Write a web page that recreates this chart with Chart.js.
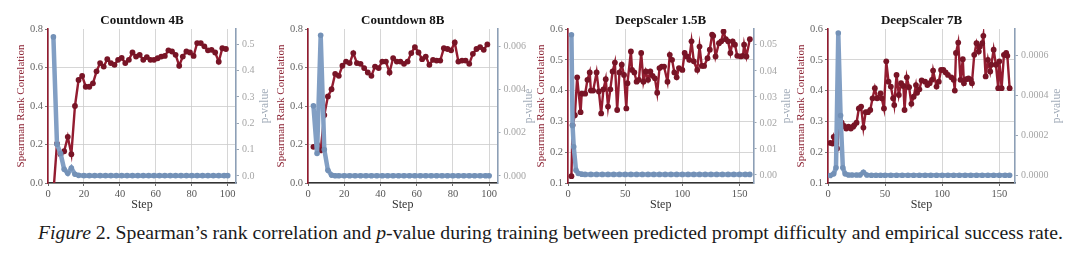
<!DOCTYPE html>
<html>
<head>
<meta charset="utf-8">
<script src="https://cdn.jsdelivr.net/npm/chart.js@4"></script>
<style>
  body { margin: 0; background: #fff; width: 1080px; height: 257px; overflow: hidden; position: relative; font-family: "Liberation Serif", serif; }
  canvas { position: absolute; top: 0; }
  #cap { position: absolute; top: 222px; left: 38px; font-size: 18px; line-height: 22px; color: #1a1a1a; white-space: nowrap; transform-origin: 0 0; }
</style>
</head>
<body>
<div id="cap"><i>Figure</i> 2. Spearman’s rank correlation and <i>p</i>-value during training between predicted prompt difficulty and empirical success rate.</div>
<script>
// steps shared by both Countdown runs
const cdSteps = [3,5,7,9,11,13,15,17,19,21,23,25,27,29,31,33,35,37,39,41,43,45,47,49,51,53,55,57,59,61,63,65,67,69,71,73,75,77,79,81,83,85,87,89,91,93,95,97,99];
const cdPSteps = [3,5,7,9,11,13,15,17,20,23,26,29,32,35,38,41,44,47,50,53,56,59,62,65,68,71,74,77,80,83,86,89,92,95,98,100];

// Countdown 4B
const cd4Corr = [-0.05,0.205,0.15,0.165,0.24,0.15,0.40,0.535,0.556,0.50,0.50,0.518,0.58,0.623,0.605,0.643,0.623,0.614,0.64,0.65,0.623,0.64,0.678,0.657,0.666,0.64,0.654,0.64,0.64,0.648,0.657,0.66,0.689,0.683,0.666,0.609,0.657,0.683,0.678,0.66,0.727,0.727,0.71,0.689,0.692,0.678,0.63,0.70,0.696];
const cd4P = [0.528,0.12,0.085,0.025,0.01,0.03,0.006,0.002,0.001,0.001,0.001,0.001,0.001,0.001,0.001,0.001,0.001,0.001,0.001,0.001,0.001,0.001,0.001,0.001,0.001,0.001,0.001,0.001,0.001,0.001,0.001,0.001,0.001,0.001,0.001,0.001];

// Countdown 8B
const cd8Corr = [0.188,0.20,0.17,0.353,0.45,0.487,0.567,0.557,0.609,0.631,0.623,0.675,0.623,0.619,0.597,0.574,0.557,0.605,0.597,0.631,0.631,0.574,0.649,0.631,0.631,0.619,0.631,0.675,0.706,0.678,0.643,0.657,0.614,0.64,0.636,0.636,0.70,0.696,0.689,0.73,0.631,0.636,0.636,0.619,0.671,0.696,0.706,0.692,0.72];
const cd8P = [0.00324,0.00104,0.0065,0.00122,0.00026,0.00004,0.00001,0.00001,0.00001,0.00001,0.00001,0.00001,0.00001,0.00001,0.00001,0.00001,0.00001,0.00001,0.00001,0.00001,0.00001,0.00001,0.00001,0.00001,0.00001,0.00001,0.00001,0.00001,0.00001,0.00001,0.00001,0.00001,0.00001,0.00001,0.00001,0.00001];

// DeepScaler 1.5B
const ds15Steps = [3,4,6,8,11,12,15,17,19,20,22,25,27,29,31,33,35,37,39,41,43,45,47,49,51,52,55,56,58,60,62,64,66,68,70,72,74,76,78,80,82,84,87,89,91,93,95,97,100,102,104,106,108,110,113,115,117,119,122,124,126,127,129,132,134,136,138,140,142,144,146,148,151,153,154,156,159];
const ds15Corr = [0.122,0.288,0.32,0.443,0.33,0.39,0.39,0.435,0.459,0.40,0.40,0.459,0.397,0.326,0.404,0.437,0.348,0.404,0.462,0.491,0.337,0.459,0.484,0.451,0.342,0.424,0.527,0.467,0.459,0.429,0.435,0.522,0.429,0.462,0.435,0.462,0.448,0.440,0.393,0.473,0.478,0.478,0.429,0.516,0.50,0.459,0.443,0.473,0.467,0.522,0.511,0.50,0.56,0.495,0.467,0.543,0.48,0.48,0.505,0.533,0.582,0.578,0.511,0.554,0.56,0.592,0.567,0.56,0.522,0.56,0.549,0.513,0.511,0.513,0.549,0.511,0.567];
const ds15PSteps = [3,4,5,7,9,12,15,20,25,30,35,40,45,50,55,60,65,70,75,80,85,90,95,100,105,110,115,120,125,130,135,140,145,150,155,159];
const ds15P = [0.0539,0.019,0.0108,0.0018,0.0006,0.0003,0.0002,0.0002,0.0002,0.0002,0.0002,0.0002,0.0002,0.0002,0.0002,0.0002,0.0002,0.0002,0.0002,0.0002,0.0002,0.0002,0.0002,0.0002,0.0002,0.0002,0.0002,0.0002,0.0002,0.0002,0.0002,0.0002,0.0002,0.0002,0.0002,0.0002];

// DeepScaler 7B
const ds7Steps = [2,4,5,7,8,10,12,14,16,18,20,22,23,25,27,29,31,33,35,37,39,41,43,46,47,49,51,53,55,57,58,60,62,64,66,67,69,71,73,75,77,78,80,82,85,87,89,91,92,95,97,99,101,103,105,108,110,111,112,114,116,118,119,121,123,125,126,128,130,132,133,135,136,138,140,142,143,145,147,149,150,152,154,156,157,159];
const ds7Corr = [0.23,0.228,0.25,0.228,0.212,0.31,0.296,0.285,0.277,0.283,0.277,0.283,0.288,0.296,0.342,0.348,0.28,0.33,0.33,0.337,0.375,0.408,0.375,0.391,0.375,0.342,0.495,0.429,0.413,0.375,0.353,0.451,0.386,0.424,0.415,0.337,0.443,0.411,0.357,0.38,0.418,0.393,0.404,0.433,0.429,0.418,0.424,0.435,0.465,0.413,0.429,0.467,0.467,0.459,0.451,0.443,0.435,0.40,0.522,0.556,0.435,0.502,0.424,0.437,0.44,0.435,0.424,0.516,0.554,0.527,0.543,0.554,0.578,0.446,0.5,0.462,0.484,0.533,0.484,0.408,0.495,0.408,0.516,0.522,0.513,0.408];
const ds7PSteps = [2,5,7,9,11,13,15,18,21,25,28,31,34,38,42,46,50,55,60,65,70,75,80,85,90,95,100,105,110,115,120,125,130,135,140,145,150,155,159];
const ds7P = [0.000002,0.00001,0.00004,0.00071,0.0003,0.00004,0.00001,0.000004,0.000004,0.000004,0.000004,0.000018,0.000004,0.000003,0.000003,0.000003,0.000003,0.000003,0.000003,0.000003,0.000003,0.000003,0.000003,0.000003,0.000003,0.000003,0.000003,0.000003,0.000003,0.000003,0.000003,0.000003,0.000003,0.000003,0.000003,0.000003,0.000003,0.000003,0.000003];

const RED = '#931c30', RED_PT = '#781426';
const BLUE = '#829fc4', BLUE_PT = '#7391b7';
const SERIF = '"Liberation Serif", "Times New Roman", serif';
const GRID = '#cbcbcb';
const LEFT_W = 33;

function pairs(xs, ys) {
  return xs.map((x, i) => ({ x: x, y: ys[i] }));
}

// panel title on top and the right "p-value" label (reads bottom-to-top)
const deco = {
  id: 'deco',
  afterDraw(chart, args, opts) {
    const ctx = chart.ctx, a = chart.chartArea;
    ctx.save();
    ctx.font = 'bold 13px ' + SERIF;
    ctx.fillStyle = '#151515';
    ctx.textAlign = 'center';
    ctx.textBaseline = 'middle';
    ctx.fillText(opts.title, (a.left + a.right) / 2, a.top - 8);
    ctx.translate(a.right + opts.pOff, (a.top + a.bottom) / 2);
    ctx.rotate(-Math.PI / 2);
    ctx.font = '11.5px ' + SERIF;
    ctx.fillStyle = '#a3adba';
    ctx.fillText('p-value', 0, 0);
    ctx.restore();
  }
};

function panel(o) {
  const c = document.createElement('canvas');
  const rw = o.pOff + 8;
  c.width = Math.round(o.right - o.left + LEFT_W + rw);
  c.height = 215;
  c.style.left = (o.left - LEFT_W) + 'px';
  document.body.appendChild(c);

  new Chart(c, {
    type: 'line',
    data: {
      datasets: [
        { data: pairs(o.pSteps, o.p), yAxisID: 'y1', borderColor: BLUE, borderWidth: 4.5,
          pointRadius: 2.8, pointBackgroundColor: BLUE_PT, pointBorderColor: BLUE_PT, pointBorderWidth: 0, tension: 0 },
        { data: pairs(o.steps, o.corr), yAxisID: 'y', borderColor: RED, borderWidth: 2.4,
          pointRadius: 2.9, pointBackgroundColor: RED_PT, pointBorderColor: RED_PT, pointBorderWidth: 0, tension: 0 }
      ]
    },
    options: {
      responsive: false,
      animation: false,
      devicePixelRatio: 1,
      layout: { padding: { top: 29, left: 0, right: 0, bottom: 0 } },
      plugins: { legend: { display: false }, tooltip: { enabled: false }, deco: { title: o.title, pOff: o.pOff } },
      scales: {
        x: {
          type: 'linear', min: 0, max: o.xMax,
          ticks: { stepSize: o.xStep, includeBounds: false, color: '#555', font: { family: SERIF, size: 10.5 }, padding: 2 },
          grid: { color: GRID, lineWidth: 0.8, tickLength: 3, tickColor: '#444' },
          border: { color: '#333', width: 1.6 },
          title: { display: true, text: 'Step', color: '#333', font: { family: SERIF, size: 12 }, padding: { top: 0, bottom: 3 } },
          afterFit: s => { s.height = 32; }
        },
        y: {
          position: 'left', min: o.yMin, max: o.yMax,
          ticks: { stepSize: o.yStep, includeBounds: false, color: '#666', font: { family: SERIF, size: 10.5 }, padding: 2,
                   callback: v => v.toFixed(1) },
          grid: { color: ctx => (ctx.tick && ctx.tick.value > o.yMax - 1e-9) ? 'rgba(0,0,0,0)' : GRID,
                  lineWidth: 0.8, tickLength: 3, tickColor: '#555' },
          border: { color: RED, width: 1.6 },
          title: { display: true, text: 'Spearman Rank Correlation', color: '#8c2233', font: { family: SERIF, size: 11 }, padding: 0 },
          afterFit: s => { s.width = LEFT_W; }
        },
        y1: {
          position: 'right', min: o.pMin, max: o.pMax,
          ticks: { stepSize: o.pStep, includeBounds: false, color: '#a5a5a5', font: { family: SERIF, size: 10 }, padding: 3,
                   callback: v => v.toFixed(o.pDigits) },
          grid: { drawOnChartArea: false, tickLength: 3, tickColor: '#9aa6b4' },
          border: { color: '#8d9fb6', width: 1.6 },
          afterFit: s => { s.width = rw; }
        }
      }
    },
    plugins: [deco]
  });
}

panel({ title: 'Countdown 4B', left: 47.7, right: 236, xMax: 104.6, xStep: 20,
        yMin: 0, yMax: 0.8, yStep: 0.2, pMin: -0.027, pMax: 0.558, pStep: 0.1, pDigits: 1, pOff: 29,
        steps: cdSteps, corr: cd4Corr, pSteps: cdPSteps, p: cd4P });
panel({ title: 'Countdown 8B', left: 307.7, right: 496.7, xMax: 104.6, xStep: 20,
        yMin: 0, yMax: 0.8, yStep: 0.2, pMin: -0.000326, pMax: 0.00679, pStep: 0.002, pDigits: 3, pOff: 31.5,
        steps: cdSteps, corr: cd8Corr, pSteps: cdPSteps, p: cd8P });
panel({ title: 'DeepScaler 1.5B', left: 567.7, right: 753.3, xMax: 162.2, xStep: 50,
        yMin: 0.1, yMax: 0.6, yStep: 0.1, pMin: -0.0031, pMax: 0.0561, pStep: 0.01, pDigits: 2, pOff: 33.5,
        steps: ds15Steps, corr: ds15Corr, pSteps: ds15PSteps, p: ds15P });
panel({ title: 'DeepScaler 7B', left: 827.7, right: 1015, xMax: 163.7, xStep: 50,
        yMin: 0.1, yMax: 0.6, yStep: 0.1, pMin: -0.0000355, pMax: 0.00073, pStep: 0.0002, pDigits: 4, pOff: 42,
        steps: ds7Steps, corr: ds7Corr, pSteps: ds7PSteps, p: ds7P });

// caption runs from x=38 to x=1063 in the figure
const cap = document.getElementById('cap');
cap.style.transform = 'scaleX(' + (1025 / cap.getBoundingClientRect().width) + ')';
</script>
</body>
</html>
